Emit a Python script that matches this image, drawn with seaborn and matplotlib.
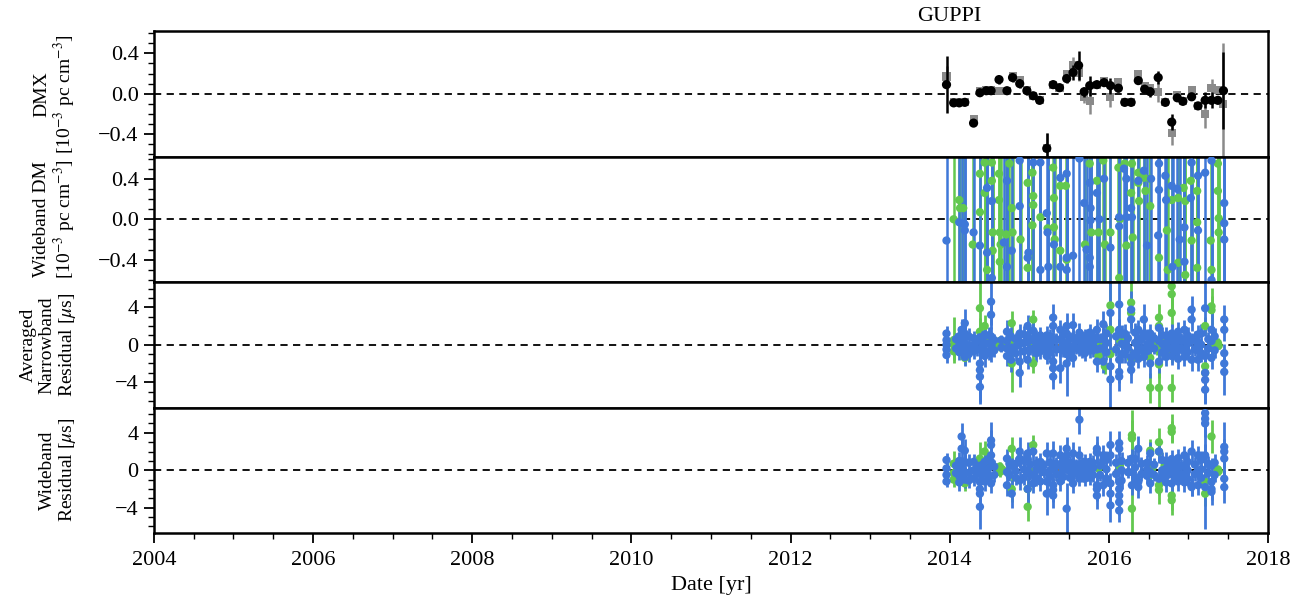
import matplotlib
matplotlib.use("Agg")
import matplotlib.pyplot as plt
import matplotlib.transforms as mtransforms
from matplotlib.ticker import MultipleLocator
import pandas as pd
import seaborn as sns

# ---------------------------------------------------------------- data
# DMX epochs [yr] and values [1e-3 pc cm^-3]
dmx_dates = [2013.96, 2014.05, 2014.12, 2014.19, 2014.30, 2014.38, 2014.46, 2014.52,
             2014.62, 2014.72, 2014.79, 2014.88, 2014.97, 2015.05, 2015.13, 2015.22,
             2015.30, 2015.38, 2015.47, 2015.55, 2015.62, 2015.69, 2015.76, 2015.85,
             2015.94, 2016.02, 2016.12, 2016.20, 2016.28, 2016.37, 2016.45, 2016.52,
             2016.62, 2016.71, 2016.79, 2016.86, 2016.93, 2017.04, 2017.12, 2017.21,
             2017.29, 2017.37, 2017.44]
dmx_wideband = [0.09, -0.09, -0.09, -0.085, -0.29, 0.01, 0.03, 0.03,
                0.14, 0.03, 0.16, 0.10, 0.03, -0.02, -0.065, -0.54,
                0.09, 0.06, 0.15, 0.21, 0.28, 0.02, 0.08, 0.09,
                0.11, 0.08, 0.055, -0.085, -0.085, 0.13, 0.045, 0.02,
                0.16, -0.085, -0.28, -0.04, -0.075, -0.03, -0.12, -0.065,
                -0.065, -0.065, 0.03]
dmx_wideband_err = [0.28, 0.03, 0.03, 0.03, 0.03, 0.03, 0.03, 0.03,
                    0.04, 0.03, 0.04, 0.04, 0.04, 0.03, 0.03, 0.15,
                    0.03, 0.03, 0.04, 0.07, 0.14, 0.05, 0.10, 0.03,
                    0.03, 0.08, 0.04, 0.03, 0.03, 0.03, 0.03, 0.05,
                    0.06, 0.03, 0.08, 0.03, 0.03, 0.03, 0.03, 0.08,
                    0.08, 0.03, 0.38]
dmx_narrowband = [0.17, -0.08, -0.08, -0.08, -0.25, 0.03, 0.04, 0.04,
                  0.03, 0.03, 0.17, 0.14, 0.04, -0.02, -0.06, -0.54,
                  0.09, 0.06, 0.19, 0.28, 0.21, -0.03, -0.07, 0.09,
                  0.13, -0.03, 0.12, -0.08, -0.08, 0.19, 0.08, 0.06,
                  0.02, -0.08, -0.39, -0.01, -0.075, 0.04, -0.12, -0.20,
                  0.06, 0.04, -0.10]
dmx_narrowband_err = [0.10, 0.03, 0.03, 0.03, 0.04, 0.03, 0.03, 0.03,
                      0.03, 0.03, 0.04, 0.04, 0.03, 0.03, 0.03, 0.15,
                      0.03, 0.03, 0.04, 0.08, 0.08, 0.06, 0.13, 0.03,
                      0.03, 0.10, 0.04, 0.03, 0.03, 0.04, 0.03, 0.04,
                      0.10, 0.03, 0.12, 0.03, 0.03, 0.03, 0.03, 0.14,
                      0.09, 0.03, 0.60]

# Wideband DM measurements (date, value); uncertainties exceed the plotted range
WB_DM_ERR = 2.0
wbdm_1400 = [
    (2013.96, -0.21), (2014.12, -0.03), (2014.15, -0.04), (2014.19, -0.05), (2014.19, -0.11),
    (2014.30, -0.13), (2014.38, -0.26), (2014.47, 0.31), (2014.47, -0.33), (2014.53, 0.18),
    (2014.53, -0.58), (2014.68, -0.23), (2014.72, -0.47), (2014.72, 0.38), (2014.78, -0.31),
    (2014.88, 0.13), (2014.88, 0.58), (2014.98, -0.38), (2014.99, -0.33), (2015.05, 0.56),
    (2015.14, 0.56), (2015.14, -0.50), (2015.22, 0.06), (2015.23, -0.13), (2015.24, -0.47),
    (2015.31, -0.25), (2015.39, 0.41), (2015.39, -0.47), (2015.47, 0.45), (2015.47, -0.38),
    (2015.47, -0.50), (2015.55, -0.36), (2015.63, 0.60), (2015.69, 0.16), (2015.72, -0.30),
    (2015.76, -0.38), (2015.76, -0.47), (2015.76, 0.36), (2015.77, 0.11), (2015.77, -0.01),
    (2015.85, 0.26), (2015.88, 0.00), (2015.94, 0.40), (2016.02, -0.28), (2016.13, 0.02),
    (2016.13, -0.07), (2016.19, 0.50), (2016.22, 0.40), (2016.22, 0.02), (2016.28, 0.11),
    (2016.29, 0.02), (2016.37, 0.38), (2016.44, 0.48), (2016.48, -0.26), (2016.53, 0.40),
    (2016.63, 0.55), (2016.63, 0.29), (2016.62, -0.16), (2016.71, 0.43), (2016.72, 0.19),
    (2016.79, 0.33), (2016.80, -0.47), (2016.86, 0.30), (2016.89, -0.20), (2016.95, -0.08),
    (2016.95, -0.42), (2017.04, 0.56), (2017.03, 0.21), (2017.12, 0.43), (2017.12, -0.11),
    (2017.21, 0.46), (2017.29, 0.58), (2017.29, -0.60), (2017.45, 0.16), (2017.45, -0.04),
    (2017.45, -0.20),
]
wbdm_820 = [
    (2014.05, 0.00), (2014.12, 0.19), (2014.13, 0.11), (2014.17, 0.11), (2014.29, -0.25),
    (2014.38, 0.45), (2014.38, 0.07), (2014.44, 0.56), (2014.44, 0.26), (2014.47, -0.50),
    (2014.53, 0.38), (2014.53, 0.56), (2014.54, -0.13), (2014.54, -0.31), (2014.62, 0.45),
    (2014.62, 0.19), (2014.63, -0.13), (2014.63, -0.42), (2014.64, -0.25), (2014.71, -0.15),
    (2014.75, 0.55), (2014.78, 0.11), (2014.79, -0.13), (2014.89, -0.20), (2014.98, 0.36),
    (2014.98, -0.48), (2015.04, 0.46), (2015.05, 0.23), (2015.05, 0.14), (2015.04, -0.06),
    (2015.14, 0.02), (2015.23, -0.09), (2015.30, 0.51), (2015.31, 0.21), (2015.31, -0.08),
    (2015.32, -0.20), (2015.39, 0.33), (2015.39, -0.31), (2015.46, 0.33), (2015.47, -0.40),
    (2015.70, -0.25), (2015.76, 0.55), (2015.78, -0.13), (2015.85, 0.38), (2015.87, -0.13),
    (2015.93, 0.58), (2015.95, -0.25), (2016.02, -0.13), (2016.12, 0.51), (2016.14, 0.00),
    (2016.13, -0.58), (2016.20, 0.55), (2016.22, -0.26), (2016.29, 0.55), (2016.28, 0.26),
    (2016.30, -0.18), (2016.37, 0.46), (2016.37, 0.36), (2016.38, 0.18), (2016.44, 0.41),
    (2016.46, 0.28), (2016.52, 0.40), (2016.52, 0.13), (2016.63, -0.38), (2016.73, -0.11),
    (2016.74, -0.50), (2016.79, 0.19), (2016.87, 0.21), (2016.87, -0.43), (2016.94, 0.31),
    (2016.96, 0.18), (2016.96, -0.55), (2017.03, 0.38), (2017.04, -0.21), (2017.11, 0.28),
    (2017.11, -0.03), (2017.11, -0.48), (2017.28, -0.21), (2017.29, -0.50), (2017.37, 0.55),
    (2017.37, 0.28), (2017.38, 0.01), (2017.38, -0.13),
]

# Epoch-averaged narrowband residuals (date, residual [us], uncertainty [us])
nb_1400 = [
    (2013.96, 1.2, 0.8), (2013.96, 0.5, 0.6), (2013.96, 0.0, 0.5), (2013.96, -0.5, 0.6), (2013.96, -1.1, 0.8),
    (2014.08, 0.6, 0.7), (2014.08, -0.4, 0.6),
    (2014.12, 0.9, 1.0), (2014.12, 0.3, 0.6), (2014.12, -0.2, 0.6), (2014.12, -0.8, 0.8),
    (2014.15, 1.6, 1.2), (2014.15, 0.6, 0.7), (2014.15, -0.1, 0.5), (2014.15, -0.6, 0.9),
    (2014.19, 2.3, 1.5), (2014.19, 1.2, 0.8), (2014.19, 0.2, 0.6), (2014.19, -0.5, 0.8), (2014.19, -1.3, 1.0),
    (2014.24, 0.9, 0.9), (2014.24, -0.2, 0.6), (2014.24, -1.0, 0.8),
    (2014.30, 0.7, 0.8), (2014.30, 0.0, 0.6), (2014.30, -0.7, 0.8),
    (2014.34, 0.4, 0.6), (2014.34, -0.5, 0.7),
    (2014.38, 0.8, 0.8), (2014.38, -0.5, 0.8), (2014.38, -2.0, 2.0), (2014.38, -2.7, 2.5),
    (2014.38, -3.4, 2.7), (2014.38, -4.5, 1.8),
    (2014.41, 0.7, 0.8), (2014.41, -0.3, 0.6),
    (2014.44, 1.1, 1.0), (2014.44, 0.2, 0.6), (2014.44, -0.6, 0.9), (2014.44, -1.2, 1.2),
    (2014.49, 1.0, 0.9), (2014.49, 0.1, 0.6), (2014.49, -0.8, 0.8),
    (2014.52, 4.6, 2.5), (2014.52, 3.2, 1.5), (2014.52, 0.9, 1.0), (2014.52, 0.0, 0.7), (2014.52, -0.9, 0.9),
    (2014.56, 0.5, 0.7), (2014.56, -0.6, 0.7),
    (2014.65, 0.5, 0.5), (2014.65, -0.3, 0.5),
    (2014.72, 1.4, 1.2), (2014.72, 0.4, 0.6), (2014.72, -0.4, 0.7), (2014.72, -1.2, 1.1),
    (2014.75, 0.8, 0.8), (2014.75, -0.4, 0.6),
    (2014.77, 0.9, 1.0), (2014.77, -1.6, 1.3), (2014.77, -0.3, 0.6),
    (2014.83, 0.6, 0.7), (2014.83, -0.2, 0.5), (2014.83, -0.9, 0.8),
    (2014.88, 1.2, 1.0), (2014.88, 0.1, 0.8), (2014.88, -1.8, 1.6), (2014.88, -3.0, 1.5),
    (2014.93, 1.1, 0.9), (2014.93, 0.2, 0.6), (2014.93, -0.7, 0.8),
    (2014.98, 2.0, 1.2), (2014.98, 1.0, 0.9), (2014.98, 0.3, 0.6), (2014.98, -0.6, 0.8), (2014.98, -1.6, 1.0),
    (2015.01, 0.5, 0.7), (2015.01, -0.5, 0.6),
    (2015.05, 1.5, 1.2), (2015.05, 0.5, 0.8), (2015.05, -0.4, 0.8),
    (2015.09, 0.8, 0.8), (2015.09, 0.0, 0.5), (2015.09, -0.9, 0.9),
    (2015.14, 1.0, 0.9), (2015.14, 0.2, 0.6), (2015.14, -0.7, 0.8),
    (2015.18, 0.4, 0.6), (2015.18, -0.3, 0.6),
    (2015.22, 1.0, 1.0), (2015.22, 0.3, 0.6), (2015.22, -0.4, 0.7), (2015.22, -1.2, 0.9),
    (2015.26, 0.9, 0.8), (2015.26, -0.1, 0.5), (2015.26, -0.8, 0.8),
    (2015.30, 2.9, 1.5), (2015.30, 2.0, 1.0), (2015.30, 0.5, 0.8), (2015.30, -1.8, 1.2),
    (2015.30, -2.5, 1.5), (2015.30, -3.4, 1.3),
    (2015.34, 0.6, 0.7), (2015.34, -0.5, 0.7),
    (2015.39, 1.6, 1.0), (2015.39, 0.5, 0.7), (2015.39, -0.5, 0.8), (2015.39, -2.5, 1.6),
    (2015.43, 1.0, 0.9), (2015.43, 0.1, 0.5), (2015.43, -0.6, 0.7),
    (2015.47, 2.0, 1.4), (2015.47, 1.2, 1.0), (2015.47, 0.2, 0.6), (2015.47, -1.0, 1.0), (2015.47, -2.0, 3.5),
    (2015.51, 0.7, 0.7), (2015.51, -0.2, 0.5), (2015.51, -0.9, 0.8),
    (2015.55, 2.1, 1.3), (2015.55, 0.8, 0.8), (2015.55, -0.3, 0.7), (2015.55, -1.4, 1.0),
    (2015.59, 0.5, 0.6), (2015.59, -0.4, 0.6),
    (2015.63, 1.3, 1.0), (2015.63, 0.4, 0.6), (2015.63, -0.5, 0.7),
    (2015.66, 0.8, 0.7), (2015.66, 0.0, 0.5), (2015.66, -0.7, 0.7),
    (2015.70, 0.9, 0.8), (2015.70, 0.0, 0.6), (2015.70, -0.9, 0.8),
    (2015.73, 0.5, 0.6), (2015.73, -0.3, 0.5),
    (2015.76, 1.3, 0.9), (2015.76, 0.3, 0.6), (2015.76, -0.6, 0.8),
    (2015.80, 0.9, 0.8), (2015.80, 0.1, 0.5), (2015.80, -0.6, 0.7),
    (2015.85, 1.6, 1.2), (2015.85, 0.6, 0.8), (2015.85, -0.5, 0.9), (2015.85, -1.8, 1.1),
    (2015.89, 0.6, 0.7), (2015.89, -0.4, 0.6),
    (2015.93, 2.2, 1.4), (2015.93, 0.8, 1.0), (2015.93, -0.4, 0.8), (2015.93, -1.8, 1.2),
    (2015.97, 1.2, 1.0), (2015.97, 0.2, 0.6), (2015.97, -0.8, 0.8),
    (2016.02, 3.4, 3.5), (2016.02, -2.3, 2.0), (2016.02, -3.7, 4.0),
    (2016.09, 0.9, 0.9), (2016.09, -0.5, 0.7),
    (2016.13, 4.3, 2.5), (2016.13, 1.6, 1.2), (2016.13, -1.6, 1.0), (2016.13, -2.9, 1.2), (2016.13, -3.4, 1.5),
    (2016.16, 1.1, 1.0), (2016.16, 0.1, 0.6), (2016.16, -1.0, 0.9),
    (2016.20, 1.2, 1.0), (2016.20, 0.0, 0.8), (2016.20, -1.0, 1.0),
    (2016.24, 0.7, 0.8), (2016.24, -0.3, 0.6),
    (2016.28, 3.75, 2.0), (2016.28, 2.7, 1.4), (2016.28, -1.3, 1.0), (2016.28, -2.0, 1.2), (2016.28, -2.7, 1.4),
    (2016.33, 1.3, 1.0), (2016.33, 0.2, 0.6), (2016.33, -0.9, 0.9),
    (2016.37, 1.6, 1.0), (2016.37, 0.5, 0.7), (2016.37, -0.6, 0.8), (2016.37, -1.5, 1.0),
    (2016.41, 0.6, 0.7), (2016.41, -0.5, 0.7),
    (2016.44, 2.7, 1.6), (2016.44, 1.2, 1.0), (2016.44, -1.3, 1.1),
    (2016.48, 0.9, 0.8), (2016.48, 0.0, 0.5), (2016.48, -0.7, 0.8),
    (2016.52, 1.2, 1.0), (2016.52, 0.2, 0.6), (2016.52, -2.0, 1.5),
    (2016.57, 0.7, 0.7), (2016.57, -0.4, 0.6),
    (2016.63, 1.8, 1.0), (2016.63, 0.4, 0.8), (2016.63, -1.8, 1.2),
    (2016.67, 1.0, 0.9), (2016.67, 0.1, 0.6), (2016.67, -0.8, 0.8),
    (2016.72, 1.0, 0.9), (2016.72, 0.2, 0.6), (2016.72, -0.6, 0.8), (2016.72, -1.3, 1.0),
    (2016.75, 0.5, 0.6), (2016.75, -0.3, 0.6),
    (2016.79, 1.2, 1.0), (2016.79, 0.4, 0.6), (2016.79, -0.4, 0.7), (2016.79, -1.2, 1.0),
    (2016.83, 0.8, 0.7), (2016.83, 0.0, 0.5), (2016.83, -0.7, 0.7),
    (2016.87, 1.4, 1.0), (2016.87, 0.4, 0.7), (2016.87, -0.5, 0.8), (2016.87, -1.5, 1.1),
    (2016.91, 0.6, 0.7), (2016.91, -0.4, 0.6),
    (2016.95, 1.6, 1.0), (2016.95, 0.4, 0.6), (2016.95, -0.6, 0.8), (2016.95, -1.3, 1.0),
    (2016.99, 1.0, 0.9), (2016.99, 0.1, 0.6), (2016.99, -0.8, 0.8),
    (2017.04, 3.75, 1.5), (2017.04, 2.7, 1.2), (2017.04, 0.5, 0.8), (2017.04, -1.6, 1.2),
    (2017.08, 0.7, 0.8), (2017.08, -0.5, 0.7),
    (2017.12, 1.1, 1.0), (2017.12, 0.2, 0.7), (2017.12, -0.6, 0.8), (2017.12, -1.6, 1.2),
    (2017.16, 1.2, 1.0), (2017.16, 0.0, 0.6), (2017.16, -0.9, 0.9),
    (2017.21, 3.9, 3.0), (2017.21, -1.2, 1.2), (2017.21, -3.0, 2.0), (2017.21, -3.75, 2.5), (2017.21, -4.8, 1.5),
    (2017.25, 0.6, 0.8), (2017.25, -0.4, 0.7),
    (2017.29, 1.6, 2.0), (2017.29, 0.4, 0.8), (2017.29, -1.4, 1.2),
    (2017.33, 0.9, 0.9), (2017.33, -0.6, 0.8),
    (2017.45, 2.7, 1.5), (2017.45, 1.6, 1.2), (2017.45, -0.9, 1.0), (2017.45, -2.0, 1.2), (2017.45, -2.9, 2.5),
]
nb_820 = [
    (2014.05, 0.5, 2.5), (2014.05, 0.0, 0.8), (2014.05, -0.7, 0.9),
    (2014.19, -1.4, 0.8),
    (2014.38, 3.9, 2.8), (2014.38, 1.4, 1.5),
    (2014.44, 2.0, 1.2), (2014.44, 0.5, 0.7),
    (2014.63, 0.4, 0.5), (2014.63, 0.0, 0.5), (2014.63, -0.2, 0.5), (2014.66, 0.2, 0.5),
    (2014.75, 0.1, 0.6),
    (2014.78, 2.3, 1.3), (2014.78, -2.0, 3.0),
    (2015.04, -0.3, 0.6),
    (2015.05, 2.7, 1.0), (2015.05, -2.0, 1.0),
    (2015.14, 0.7, 0.8),
    (2015.87, -1.2, 0.8), (2015.87, 0.3, 0.6),
    (2015.95, -2.3, 0.8),
    (2016.02, 4.2, 2.8), (2016.02, 1.6, 1.2), (2016.02, -1.0, 1.0),
    (2016.14, 0.5, 0.7),
    (2016.28, 4.5, 2.5), (2016.28, 3.4, 1.5), (2016.28, -1.5, 1.0),
    (2016.52, -1.4, 1.0), (2016.52, -4.6, 1.6), (2016.55, 0.2, 0.6), (2016.60, -0.4, 0.7),
    (2016.63, 2.9, 1.5), (2016.63, 2.0, 1.0), (2016.63, -2.1, 1.5), (2016.63, -4.6, 2.0),
    (2016.70, 0.6, 0.8),
    (2016.79, 6.25, 2.0), (2016.79, 5.4, 2.0), (2016.79, 3.4, 1.5), (2016.79, -1.0, 1.0), (2016.79, -4.6, 1.5),
    (2017.21, 2.0, 1.0), (2017.21, -2.3, 1.5), (2017.21, -3.0, 1.3),
    (2017.29, 4.1, 2.0), (2017.29, 3.7, 1.5), (2017.29, -0.3, 0.8),
    (2017.37, 0.2, 0.5), (2017.37, 0.0, 0.4), (2017.38, -0.1, 0.4),
]

# Wideband residuals (date, residual [us], uncertainty [us])
wb_1400 = [
    (2013.96, 1.1, 0.7), (2013.96, 0.2, 0.6), (2013.96, -0.5, 0.6), (2013.96, -1.2, 0.6),
    (2014.08, 0.5, 0.7), (2014.08, -0.3, 0.6),
    (2014.12, 1.0, 1.0), (2014.12, 0.2, 0.6), (2014.12, -0.6, 0.8), (2014.12, -1.3, 0.9),
    (2014.15, 3.6, 1.4), (2014.15, 2.3, 1.0), (2014.15, 0.6, 0.8), (2014.15, -0.4, 0.7),
    (2014.19, 2.1, 1.2), (2014.19, 0.9, 0.8), (2014.19, -0.2, 0.6), (2014.19, -1.0, 0.9),
    (2014.24, 0.8, 0.9), (2014.24, -0.3, 0.6), (2014.24, -1.1, 0.8),
    (2014.30, 0.9, 0.8), (2014.30, 0.0, 0.6), (2014.30, -0.9, 0.8),
    (2014.34, 0.5, 0.6), (2014.34, -0.4, 0.7),
    (2014.38, -0.2, 0.8), (2014.38, -1.25, 1.0), (2014.38, -2.0, 1.2), (2014.38, -2.5, 1.3), (2014.38, -3.9, 2.4),
    (2014.41, 0.6, 0.8), (2014.41, -0.4, 0.6),
    (2014.44, 0.9, 0.9), (2014.44, 0.0, 0.6), (2014.44, -1.2, 1.0),
    (2014.49, 1.1, 0.9), (2014.49, 0.2, 0.6), (2014.49, -0.7, 0.8),
    (2014.52, 3.2, 2.0), (2014.52, 2.7, 1.6), (2014.52, 1.6, 1.2), (2014.52, 0.9, 0.8), (2014.52, -1.4, 1.0),
    (2014.56, 0.4, 0.7), (2014.56, -0.5, 0.7),
    (2014.72, 1.25, 1.0), (2014.72, -0.2, 0.6), (2014.72, -1.6, 1.2),
    (2014.75, 0.7, 0.8), (2014.75, -0.5, 0.6),
    (2014.78, 0.5, 0.8), (2014.78, -2.5, 1.5),
    (2014.83, 0.7, 0.7), (2014.83, -0.1, 0.5), (2014.83, -0.8, 0.8),
    (2014.88, 2.0, 1.6), (2014.88, 1.25, 1.0), (2014.88, -1.1, 1.0),
    (2014.93, 1.0, 0.9), (2014.93, 0.1, 0.6), (2014.93, -0.8, 0.8),
    (2014.98, 1.8, 1.2), (2014.98, 1.25, 0.9), (2014.98, 0.0, 0.6), (2014.98, -2.0, 1.8),
    (2015.01, 0.6, 0.7), (2015.01, -0.4, 0.6),
    (2015.05, 2.0, 1.2), (2015.05, -0.5, 0.7), (2015.05, -1.4, 1.0),
    (2015.09, 0.7, 0.8), (2015.09, 0.1, 0.5), (2015.09, -0.8, 0.9),
    (2015.14, 0.9, 0.9), (2015.14, 0.0, 0.6), (2015.14, -1.2, 1.0),
    (2015.18, 0.5, 0.6), (2015.18, -0.2, 0.6),
    (2015.22, 1.8, 1.2), (2015.22, -1.2, 1.0), (2015.22, -2.5, 2.3),
    (2015.26, 0.8, 0.8), (2015.26, 0.0, 0.5), (2015.26, -0.7, 0.8),
    (2015.30, 1.8, 1.3), (2015.30, 0.3, 0.6), (2015.30, -1.6, 1.2), (2015.30, -2.1, 1.3), (2015.30, -2.7, 1.3),
    (2015.34, 0.7, 0.7), (2015.34, -0.4, 0.7),
    (2015.39, 1.6, 1.1), (2015.39, 0.5, 0.7), (2015.39, -0.5, 0.7), (2015.39, -1.2, 1.0),
    (2015.43, 0.9, 0.9), (2015.43, 0.0, 0.5), (2015.43, -0.7, 0.7),
    (2015.47, 2.3, 1.2), (2015.47, 1.6, 1.1), (2015.47, 0.2, 0.6), (2015.47, -4.1, 2.7),
    (2015.51, 0.8, 0.7), (2015.51, -0.1, 0.5), (2015.51, -0.8, 0.8),
    (2015.55, 1.8, 1.2), (2015.55, 0.6, 0.8), (2015.55, -0.4, 0.7), (2015.55, -1.4, 1.0),
    (2015.59, 0.6, 0.6), (2015.59, -0.3, 0.6),
    (2015.63, 5.4, 1.5), (2015.63, 1.6, 1.0), (2015.63, 0.4, 0.7), (2015.63, -0.9, 0.8),
    (2015.66, 0.7, 0.7), (2015.66, 0.1, 0.5), (2015.66, -0.6, 0.7),
    (2015.70, 0.9, 0.8), (2015.70, 0.0, 0.6), (2015.70, -0.9, 0.8),
    (2015.73, 0.4, 0.6), (2015.73, -0.4, 0.5),
    (2015.76, 0.9, 0.9), (2015.76, 0.0, 0.6), (2015.76, -0.8, 0.8),
    (2015.80, 0.8, 0.8), (2015.80, 0.2, 0.5), (2015.80, -0.5, 0.7),
    (2015.85, 2.3, 1.4), (2015.85, 1.9, 1.1), (2015.85, -1.6, 1.1), (2015.85, -2.0, 1.3), (2015.85, -2.7, 1.4),
    (2015.89, 0.5, 0.7), (2015.89, -0.5, 0.6),
    (2015.93, 1.6, 1.1), (2015.93, 1.1, 0.9), (2015.93, -1.6, 1.1),
    (2015.97, 1.1, 1.0), (2015.97, 0.1, 0.6), (2015.97, -0.9, 0.8),
    (2016.02, 2.7, 1.5), (2016.02, 1.6, 1.1), (2016.02, -1.4, 1.1), (2016.02, -2.5, 1.5), (2016.02, -3.75, 1.8),
    (2016.09, 0.8, 0.9), (2016.09, -0.4, 0.7),
    (2016.13, 2.9, 1.3), (2016.13, 2.3, 1.1), (2016.13, -1.25, 1.0), (2016.13, -2.0, 1.2),
    (2016.13, -2.7, 1.3), (2016.13, -3.4, 1.4), (2016.13, -4.3, 1.2),
    (2016.16, 1.0, 1.0), (2016.16, 0.0, 0.6), (2016.16, -1.1, 0.9),
    (2016.24, 0.8, 0.8), (2016.24, -0.2, 0.6),
    (2016.29, 1.25, 1.0), (2016.29, -0.2, 0.7), (2016.29, -1.6, 1.0),
    (2016.33, 1.2, 1.0), (2016.33, 0.3, 0.6), (2016.33, -0.8, 0.9),
    (2016.37, 2.3, 1.4), (2016.37, -1.25, 1.0), (2016.37, -1.8, 1.2),
    (2016.41, 0.7, 0.7), (2016.41, -0.4, 0.7),
    (2016.48, 0.8, 0.8), (2016.48, 0.1, 0.5), (2016.48, -0.6, 0.8),
    (2016.52, 1.8, 1.2), (2016.52, -0.2, 0.7), (2016.52, -1.4, 1.0),
    (2016.57, 0.6, 0.7), (2016.57, -0.5, 0.6),
    (2016.63, 2.0, 1.2), (2016.63, -0.9, 0.9),
    (2016.67, 1.1, 0.9), (2016.67, 0.0, 0.6), (2016.67, -0.7, 0.8),
    (2016.72, 1.0, 0.9), (2016.72, 0.2, 0.6), (2016.72, -0.6, 0.8), (2016.72, -1.3, 1.0),
    (2016.75, 0.6, 0.6), (2016.75, -0.2, 0.6),
    (2016.79, 1.2, 1.0), (2016.79, 0.4, 0.6), (2016.79, -0.4, 0.7), (2016.79, -1.4, 1.0),
    (2016.83, 0.7, 0.7), (2016.83, 0.1, 0.5), (2016.83, -0.6, 0.7),
    (2016.87, 1.3, 1.0), (2016.87, 0.3, 0.6), (2016.87, -0.5, 0.8), (2016.87, -1.2, 1.0),
    (2016.91, 0.5, 0.7), (2016.91, -0.5, 0.6),
    (2016.95, 1.6, 1.0), (2016.95, 0.4, 0.6), (2016.95, -0.6, 0.8), (2016.95, -1.3, 1.0),
    (2016.99, 0.9, 0.9), (2016.99, 0.0, 0.6), (2016.99, -0.9, 0.8),
    (2017.04, 2.0, 1.2), (2017.04, -1.6, 1.2), (2017.04, -1.8, 1.0),
    (2017.08, 0.6, 0.8), (2017.08, -0.4, 0.7),
    (2017.12, 1.6, 1.0), (2017.12, -0.2, 0.7), (2017.12, -1.6, 1.0),
    (2017.16, 1.1, 1.0), (2017.16, 0.1, 0.6), (2017.16, -0.8, 0.9),
    (2017.21, 6.1, 2.0), (2017.21, 5.5, 2.0), (2017.21, 5.0, 2.5), (2017.21, 1.6, 1.2), (2017.21, -1.8, 4.5),
    (2017.25, 0.7, 0.8), (2017.25, -0.3, 0.7),
    (2017.29, 0.5, 0.8), (2017.29, -1.25, 1.0), (2017.29, -2.0, 1.2), (2017.29, -2.3, 1.4),
    (2017.33, 0.8, 0.9), (2017.33, -0.5, 0.8),
    (2017.45, 2.5, 2.7), (2017.45, 2.0, 1.3), (2017.45, 1.25, 1.0), (2017.45, -0.9, 0.9), (2017.45, -1.8, 1.7),
]
wb_820 = [
    (2014.05, 0.7, 1.4), (2014.05, -0.3, 0.7), (2014.05, -1.0, 0.8),
    (2014.19, -1.4, 0.8),
    (2014.38, 1.25, 1.8),
    (2014.44, 2.0, 1.1), (2014.44, 0.5, 0.7),
    (2014.63, 0.4, 0.5), (2014.63, 0.0, 0.4), (2014.63, -0.2, 0.5), (2014.66, 0.1, 0.5),
    (2014.78, 2.3, 1.2), (2014.78, -2.0, 1.4),
    (2014.98, -2.0, 1.2), (2014.98, -3.9, 1.5),
    (2015.05, 2.7, 1.1), (2015.04, -0.2, 0.6),
    (2015.14, 0.5, 0.7),
    (2015.39, -0.5, 0.6),
    (2015.87, 0.2, 0.6),
    (2016.14, 0.4, 0.7),
    (2016.29, 3.75, 2.7), (2016.29, 3.4, 2.0), (2016.29, -4.1, 3.2),
    (2016.52, 2.1, 1.2), (2016.52, -0.5, 0.7), (2016.55, 0.3, 0.6),
    (2016.63, 3.0, 1.5), (2016.63, 2.0, 1.0), (2016.63, -1.6, 1.0), (2016.63, -2.1, 1.5),
    (2016.70, 0.5, 0.8),
    (2016.79, 4.5, 1.5), (2016.79, 4.1, 1.2), (2016.79, -2.7, 1.5), (2016.79, -3.2, 1.6),
    (2017.21, -1.25, 1.0), (2017.21, -2.5, 1.3),
    (2017.29, 3.6, 1.8),
    (2017.37, 0.0, 0.5), (2017.37, 0.1, 0.4), (2017.38, -0.1, 0.4),
]

# ---------------------------------------------------------------- style
BLUE = "#3f78d8"
GREEN = "#62c84f"
GRAY = "#8a8a8a"

sns.set_theme(style="ticks")
plt.rcParams.update({
    "font.family": ["Liberation Serif", "DejaVu Serif"],
    "mathtext.fontset": "stix",
    "axes.linewidth": 1.6,
    "axes.edgecolor": "black",
    "xtick.direction": "out",
    "ytick.direction": "out",
    "xtick.color": "black",
    "ytick.color": "black",
    "axes.labelcolor": "black",
    "text.color": "black",
})


def draw_series(ax, rows, color, marker="o", size=36, elw=2.0, z=2.0, err=None):
    cols = ["date", "value", "err"] if err is None else ["date", "value"]
    df = pd.DataFrame(rows, columns=cols)
    if err is not None:
        df["err"] = err
    ax.errorbar(df["date"], df["value"], yerr=df["err"], fmt="none",
                ecolor=color, elinewidth=elw, capsize=0, zorder=z)
    sns.scatterplot(data=df, x="date", y="value", color=color, marker=marker,
                    s=size, edgecolor="none", linewidth=0, ax=ax,
                    zorder=z + 0.5, legend=False)


fig, axes = plt.subplots(4, 1, sharex=True, figsize=(13.04, 6.15), dpi=100)
fig.subplots_adjust(left=0.118, right=0.9724, top=0.9496, bottom=0.1333, hspace=0)
ax_dmx, ax_wbdm, ax_nb, ax_wb = axes

# DMX
draw_series(ax_dmx, list(zip(dmx_dates, dmx_narrowband, dmx_narrowband_err)),
            GRAY, marker="s", size=34, elw=1.8, z=2)
draw_series(ax_dmx, list(zip(dmx_dates, dmx_wideband, dmx_wideband_err)),
            "black", marker="o", size=44, elw=1.8, z=3)

# Wideband DM
draw_series(ax_wbdm, wbdm_820, GREEN, err=WB_DM_ERR, elw=1.8, z=2)
draw_series(ax_wbdm, wbdm_1400, BLUE, err=WB_DM_ERR, elw=1.8, z=2.2)

# Averaged narrowband residuals
draw_series(ax_nb, nb_820, GREEN, z=2)
draw_series(ax_nb, nb_1400, BLUE, z=2.2)

# Wideband residuals
draw_series(ax_wb, wb_820, GREEN, z=2)
draw_series(ax_wb, wb_1400, BLUE, z=2.2)

ylabels = [
    "DMX\n[10$^{-3}$ pc cm$^{-3}$]",
    "Wideband DM\n[10$^{-3}$ pc cm$^{-3}$]",
    "Averaged\nNarrowband\nResidual [$\\mu$s]",
    "Wideband\nResidual [$\\mu$s]",
]
for i, ax in enumerate(axes):
    ax.axhline(0, color="black", ls="--", lw=1.3, dashes=(4, 3), zorder=1)
    ax.set_ylabel(ylabels[i], fontsize=14, linespacing=1.1)
    ax.yaxis.set_label_coords(-0.068, 0.5)
    ax.set_xlabel("")
    ax.tick_params(axis="y", which="major", length=7, width=1.3, labelsize=16, pad=4)
    ax.tick_params(axis="y", which="minor", length=4, width=1.0)
    ax.tick_params(axis="x", which="both", bottom=(i == 3), top=False)
    for side in ("top", "bottom", "left", "right"):
        ax.spines[side].set_visible(True)
        ax.spines[side].set_linewidth(1.8)

for ax in (ax_dmx, ax_wbdm):
    ax.set_ylim(-0.62, 0.62)
    ax.yaxis.set_major_locator(MultipleLocator(0.4))
    ax.yaxis.set_minor_locator(MultipleLocator(0.1))
for ax in (ax_nb, ax_wb):
    ax.set_ylim(-6.7, 6.7)
    ax.yaxis.set_major_locator(MultipleLocator(4))
    ax.yaxis.set_minor_locator(MultipleLocator(1))

ax_wb.set_xlim(2004, 2018)
ax_wb.xaxis.set_major_locator(MultipleLocator(2))
ax_wb.xaxis.set_minor_locator(MultipleLocator(0.5))
ax_wb.tick_params(axis="x", which="major", length=7, width=1.3, labelsize=16, pad=6)
ax_wb.tick_params(axis="x", which="minor", length=4, width=1.0)
ax_wb.set_xlabel("Date [yr]", fontsize=16, labelpad=4)

trans = mtransforms.blended_transform_factory(ax_dmx.transData, ax_dmx.transAxes)
ax_dmx.text(2014.0, 1.04, "GUPPI", transform=trans, ha="center", va="bottom", fontsize=16)

fig.savefig("out.png", dpi=100)
